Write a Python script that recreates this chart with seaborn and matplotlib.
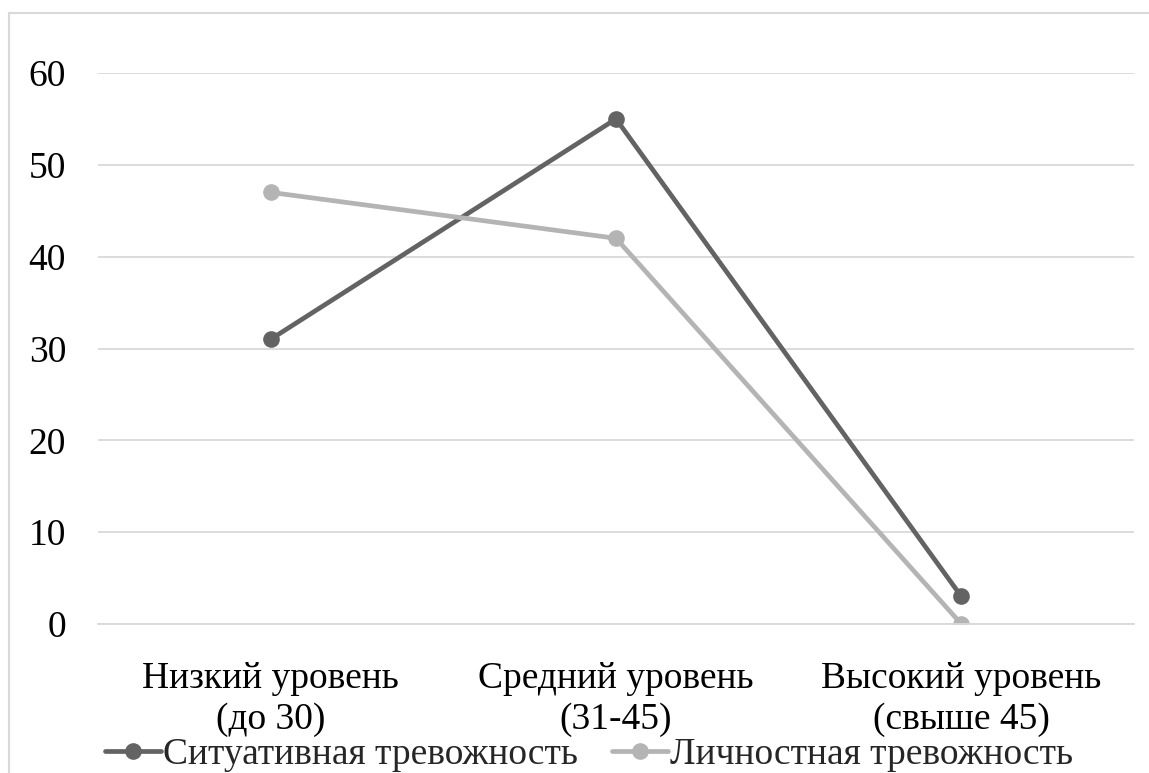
import matplotlib
matplotlib.use("Agg")
import matplotlib.pyplot as plt
import seaborn as sns
import pandas as pd
from matplotlib.patches import Rectangle
from matplotlib.lines import Line2D

categories = ["Низкий уровень\n(до 30)", "Средний уровень\n(31-45)", "Высокий уровень\n(свыше 45)"]
series_names = ["Ситуативная тревожность", "Личностная тревожность"]
situational = [31, 55, 3]
personal = [47, 42, 0]
yticks = [0, 10, 20, 30, 40, 50, 60]
colors = ["#636363", "#b4b4b4"]

df = pd.DataFrame({
    "cat": categories * 2,
    "x": list(range(len(categories))) * 2,
    "value": situational + personal,
    "series": [series_names[0]] * 3 + [series_names[1]] * 3,
})

sns.set_theme(style="white")
plt.rcParams['font.family'] = ['Liberation Serif', 'DejaVu Serif']

FS = 27

fig = plt.figure(figsize=(11.49, 7.73), dpi=100)
ax = fig.add_axes([98/1149, 1-624/773, (1134-98)/1149, (624-73)/773])

sns.lineplot(data=df, x="x", y="value", hue="series", palette=colors,
             marker="o", markersize=12, markeredgewidth=0, linewidth=3.4,
             ax=ax, legend=False, sort=False)

ax.set_xlim(-0.5, 2.5)
ax.set_ylim(0, 60)
ax.set_yticks(yticks)
ax.set_yticklabels([str(t) for t in yticks], fontsize=FS, color="black")
ax.set_xticks(range(len(categories)))
ax.set_xticklabels(categories, fontsize=FS, color="black", linespacing=1.25)
ax.tick_params(axis="x", which="major", length=0, pad=27)
ax.tick_params(axis="y", which="major", length=0, pad=23)
ax.set_xticks([-0.5, 0.5, 1.5, 2.5], minor=True)
ax.tick_params(axis="x", which="minor", length=8, width=1.3, color="#d9d9d9", direction="out")
ax.set_xlabel("")
ax.set_ylabel("")

ax.yaxis.grid(True, color="#d9d9d9", linewidth=1.3)
ax.xaxis.grid(False)
for s in ["top", "right", "left"]:
    ax.spines[s].set_visible(False)
ax.spines["bottom"].set_color("#d9d9d9")
ax.spines["bottom"].set_linewidth(1.3)
ax.set_axisbelow(True)

handles = [Line2D([0], [0], color=c, lw=3.4, marker="o", markersize=12, markeredgewidth=0) for c in colors]
fig.legend(handles, series_names, loc="center", bbox_to_anchor=(589/1149, 1-755/773),
           ncol=2, frameon=False, fontsize=FS, handlelength=1.5, handletextpad=0.05,
           columnspacing=0.9, borderaxespad=0, borderpad=0)

fig.patches.append(Rectangle((9/1149, -0.1), 1.2, 1-13/773+0.1, transform=fig.transFigure,
                             fill=False, edgecolor="#d9d9d9", linewidth=1.5))

fig.savefig("out.png", dpi=100, facecolor="white")
